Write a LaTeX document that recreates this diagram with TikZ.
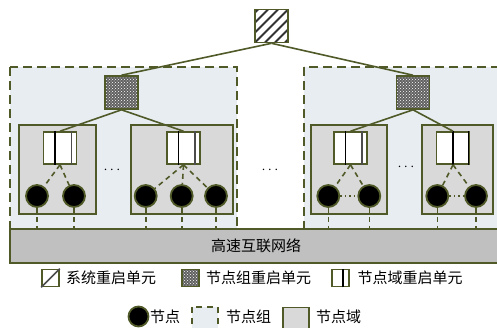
\documentclass[tikz,border=0pt]{standalone}
\usepackage{fontspec}
\setmainfont{Noto Sans CJK SC}
\usetikzlibrary{patterns,calc}
\definecolor{olive}{HTML}{4F5A28}
\definecolor{grpfill}{HTML}{E8EDF2}
\definecolor{domfill}{HTML}{D9D9D9}
\definecolor{barfill}{HTML}{C0C0C0}
\tikzset{
  conn/.style={draw=olive, line width=1.6pt},
  dconn/.style={draw=olive, line width=1.6pt, dash pattern=on 5pt off 4pt},
  grpbox/.style={draw=olive, fill=grpfill, line width=1.8pt, dash pattern=on 9pt off 5pt},
  dombox/.style={draw=olive, fill=domfill, line width=1.6pt},
  sysunit/.style={draw=olive, fill=white, line width=1.6pt, minimum width=33pt, minimum height=33pt, inner sep=0pt},
  grpunit/.style={draw=olive, line width=1.6pt, minimum width=33pt, minimum height=33pt, inner sep=0pt,
     preaction={fill=black!62}, pattern=crosshatch dots, pattern color=white},
  domunit/.style={draw=olive, fill=white, line width=1.6pt, minimum width=33pt, minimum height=32pt, inner sep=0pt},
  nd/.style={circle, fill=black, draw=olive, line width=1.8pt, minimum size=22pt, inner sep=0pt},
  lbl/.style={font=\fontsize{15}{18}\selectfont, inner sep=0pt, anchor=west},
  dots/.style={font=\fontsize{14}{16}\selectfont, inner sep=0pt}
}
\begin{document}
\begin{tikzpicture}[x=1pt, y=-1pt]
\useasboundingbox (0,0) rectangle (497,327);
\clip (0,0) rectangle (497,327);
% group boxes
\draw[grpbox] (10,67) rectangle (237,229);
\draw[grpbox] (304,67) rectangle (520,229);
% domain boxes
\draw[dombox] (19,125) rectangle (96,214);
\draw[dombox] (131,125) rectangle (233,214);
\draw[dombox] (311,125) rectangle (387,214);
\draw[dombox] (422,125) rectangle (493,214);
% system unit
\node[sysunit] (sys) at (271.5,26) {};
\begin{scope}
\clip (255,9.5) rectangle (288,42.5);
\foreach \k in {-30,-20,...,40} {
  \draw[black!80, line width=1.8pt] (255+\k,42.5) -- (255+\k+34,8.5);
}
\end{scope}
\draw[olive, line width=1.6pt] (255,9.5) rectangle (288,42.5);
% group units
\node[grpunit] (g1) at (121.5,92.5) {};
\node[grpunit] (g2) at (413,92.5) {};
% domain units
\node[domunit] (d1) at (60,148) {};
\node[domunit] (d2) at (183.5,148) {};
\node[domunit] (d3) at (350.5,148) {};
\node[domunit] (d4) at (453,148) {};
\foreach \d in {d1,d2,d3} {
  \draw[black, line width=1.6pt] ($(\d.south west)!0.36!(\d.south east)$) -- ($(\d.north west)!0.36!(\d.north east)$);
  \draw[black!70, line width=1.6pt] ($(\d.south west)!0.83!(\d.south east)$) -- ($(\d.north west)!0.83!(\d.north east)$);
}
\draw[black, line width=1.6pt] (d4.south) -- (d4.north);
\draw[black, line width=1.6pt] ($(d4.south west)!0.95!(d4.south east)$) -- ($(d4.north west)!0.95!(d4.north east)$);
% nodes
\node[nd] (n11) at (37,196) {};
\node[nd] (n12) at (74,196) {};
\node[nd] (n21) at (145.7,196) {};
\node[nd] (n22) at (181.7,196) {};
\node[nd] (n23) at (216,196) {};
\node[nd] (n31) at (328.3,196) {};
\node[nd] (n32) at (369.3,196) {};
\node[nd] (n41) at (437.3,196) {};
\node[nd] (n42) at (476,196) {};
% bar
\node[draw=olive, fill=barfill, line width=1.8pt, minimum width=492pt, minimum height=34pt, inner sep=0pt,
      font=\fontsize{15}{18}\selectfont] (bar) at (256,246) {高速互联网络};
% connectors
\draw[conn] (sys.south) -- (g1.north);
\draw[conn] (sys.south) -- (g2.north);
\draw[conn] (g1.south) -- (d1.north);
\draw[conn] (g1.south) -- (d2.north);
\draw[conn] (g2.south) -- (d3.north);
\draw[conn] (g2.south) -- (d4.north);
\draw[dconn] (d1.south) -- (n11);
\draw[dconn] (d1.south) -- (n12);
\draw[dconn] (d2.south) -- (n21);
\draw[dconn] (d2.south) -- (n22);
\draw[dconn] (d2.south) -- (n23);
\draw[dconn] (d3.south) -- (n31);
\draw[dconn] (d3.south) -- (n32);
\draw[dconn] (d4.south) -- (n41);
\draw[dconn] (d4.south) -- (n42);
\foreach \n in {n11,n12,n21,n22,n23,n31,n32,n41,n42} {
  \draw[olive, line width=1.6pt, dash pattern=on 5pt off 4pt] (\n.south) -- (\n.south |- bar.north);
}
\draw[olive, line width=1.5pt, dash pattern=on 1.5pt off 3pt] (n31) -- (n32);
\draw[olive, line width=1.5pt, dash pattern=on 1.5pt off 3pt] (n41) -- (n42);
% ellipses
\node[dots] (e1) at (112,170) {$\cdots$};
\node[dots] (e2) at (270,170) {$\cdots$};
\node[dots] (e3) at (406,167) {$\cdots$};
% legend row 1
\node[draw=olive, fill=white, line width=1.6pt, minimum size=17pt, inner sep=0pt] (ls) at (50.5,278) {};
\draw[black!70, line width=1.6pt] (ls.south west) -- (ls.north east);
\node[lbl] (lst) at (66,278) {系统重启单元};
\node[draw=olive, line width=1.6pt, minimum size=17pt, inner sep=0pt, preaction={fill=black!62}, pattern=crosshatch dots, pattern color=white] (lg) at (190.5,278) {};
\node[lbl] (lgt) at (206,278) {节点组重启单元};
\node[draw=olive, fill=white, line width=1.6pt, minimum size=17pt, inner sep=0pt] (ld) at (340.5,278) {};
\draw[black, line width=1.6pt] ($(ld.south west)!0.65!(ld.south east)$) -- ($(ld.north west)!0.65!(ld.north east)$);
\node[lbl] (ldt) at (357.5,278) {节点域重启单元};
% legend row 2
\node[nd, minimum size=20pt] (ln) at (138.5,316.5) {};
\node[lbl] (lnt) at (150,316.5) {节点};
\draw[olive, fill=grpfill, line width=1.6pt, dash pattern=on 6pt off 5pt] (192,307) rectangle (218,330);
\node[lbl] (lgpt) at (226,316.5) {节点组};
\draw[dombox] (283,307.5) rectangle (309,330);
\node[lbl] (ldpt) at (316,316.5) {节点域};
\end{tikzpicture}
\end{document}
